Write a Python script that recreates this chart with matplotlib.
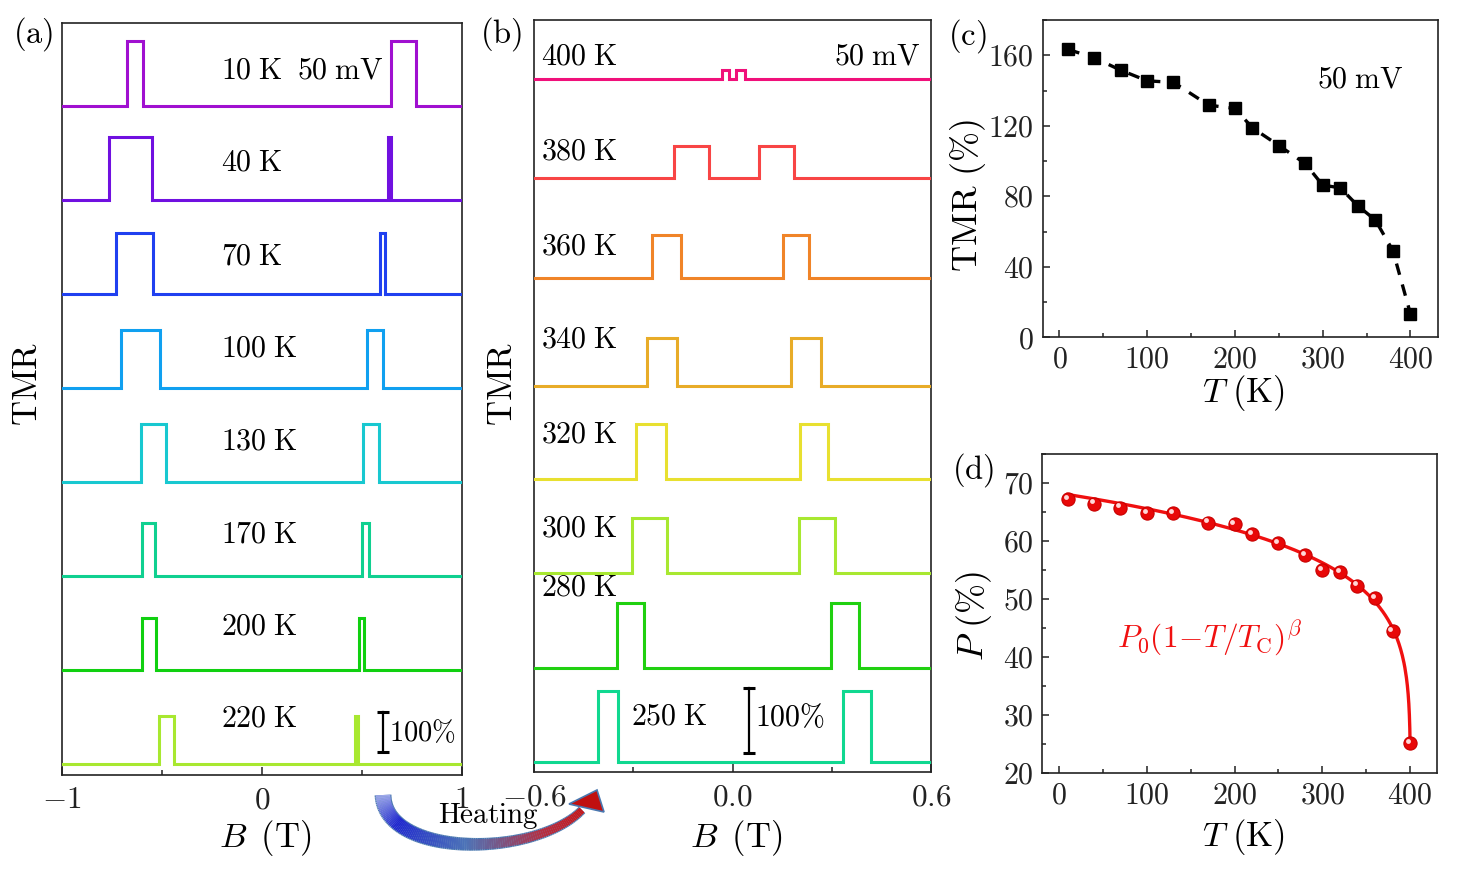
import numpy as np
import matplotlib
matplotlib.use('Agg')
import matplotlib.pyplot as plt
from matplotlib.collections import LineCollection
from matplotlib.patches import Polygon
from matplotlib.ticker import MultipleLocator, FuncFormatter
import matplotlib.transforms as mtransforms

plt.rcParams['mathtext.fontset'] = 'cm'
plt.rcParams['font.family'] = 'serif'
plt.rcParams['font.serif'] = ['cmr10', 'DejaVu Serif']
plt.rcParams['axes.unicode_minus'] = False

# ---------------- data ----------------
# panel (a): low temperature TMR loops (B in T, TMR in %)
temps_a = [10, 40, 70, 100, 130, 170, 200, 220]
height_a = [163, 158, 152, 146, 145, 132, 130, 119]
left_on_a = [-0.677, -0.765, -0.732, -0.707, -0.605, -0.600, -0.598, -0.513]
left_off_a = [-0.597, -0.552, -0.547, -0.510, -0.482, -0.533, -0.532, -0.440]
right_on_a = [0.643, 0.632, 0.590, 0.527, 0.507, 0.498, 0.485, 0.465]
right_off_a = [0.768, 0.645, 0.615, 0.607, 0.585, 0.533, 0.510, 0.482]
colors_a = ['#A010D0', '#7010E0', '#2040F0', '#10A0F0', '#18C8D0', '#10D090', '#10D010', '#A8E830']

# panel (b): high temperature TMR loops
temps_b = [400, 380, 360, 340, 320, 300, 280, 250]
height_b = [13, 49, 67, 75, 85, 86, 99, 109]
left_on_b = [-0.033, -0.177, -0.244, -0.260, -0.293, -0.304, -0.351, -0.407]
left_off_b = [-0.012, -0.071, -0.156, -0.168, -0.202, -0.200, -0.269, -0.348]
right_on_b = [0.010, 0.080, 0.151, 0.175, 0.204, 0.200, 0.296, 0.335]
right_off_b = [0.036, 0.185, 0.232, 0.267, 0.289, 0.311, 0.383, 0.420]
colors_b = ['#F0107A', '#F84545', '#F08428', '#E8AC28', '#E8E030', '#A8E830', '#20D010', '#10D890']

# panel (c) and (d): temperature dependence
T = [10, 40, 70, 100, 130, 170, 200, 220, 250, 280, 300, 320, 340, 360, 380, 400]
TMR = [163.3, 158.5, 151.5, 145.5, 144.6, 131.7, 129.8, 118.8, 108.8, 98.6, 86.3, 84.8, 74.6, 66.5, 49.1, 13.2]
P = [67.2, 66.5, 65.8, 64.9, 64.8, 63.2, 62.9, 61.2, 59.6, 57.6, 55.0, 54.6, 52.3, 50.1, 44.5, 25.1]
# fit P0 (1 - T/Tc)^beta
P0_fit, Tc_fit, beta_fit = 68.3, 400.3, 0.14

# ---------------- layout ----------------
W, H = 1462, 873
fig = plt.figure(figsize=(W / 100, H / 100), dpi=100)


def px_rect(l, r, t, b):
    return [l / W, 1 - b / H, (r - l) / W, (b - t) / H]


def fx(x):
    return x / W


def fy(y):
    return 1 - y / H


tick_kw = dict(direction='in', width=1.1, colors='#222222')
LBL = 21.6


def style_frame(ax):
    for s in ax.spines.values():
        s.set_linewidth(1.2)
        s.set_color('#222222')


def step_trace(l0, l1, r0, r1, h, xmin, xmax):
    x = [xmin, l0, l0, l1, l1, r0, r0, r1, r1, xmax]
    y = [0, 0, h, h, 0, 0, h, h, 0, 0]
    return np.array(x), np.array(y, dtype=float)


# ---- panel (a)
axa = fig.add_axes(px_rect(62, 462, 22.7, 775))
style_frame(axa)
step_a = 235.0
n = len(temps_a)
label_off_a = [88, 92, 94, 98, 100, 102, 108, 112]
for i in range(n):
    off = (n - 1 - i) * step_a
    x, y = step_trace(left_on_a[i], left_off_a[i], right_on_a[i], right_off_a[i], height_a[i], -1, 1)
    axa.plot(x, y + off, color=colors_a[i], lw=2.2, solid_joinstyle='miter', zorder=3)
    axa.text(-0.205, off + label_off_a[i], r'$\mathrm{%d\;K}$' % temps_a[i], fontsize=LBL,
             ha='left', va='center', zorder=4)
axa.text(0.175, 7 * step_a + label_off_a[0], r'$\mathrm{50\;mV}$', fontsize=LBL, ha='left', va='center')
# scale bar 100 %
axa.plot([0.603, 0.603], [30, 130], color='k', lw=1.6)
axa.plot([0.603], [30], marker='_', ms=9, mew=2.2, color='k')
axa.plot([0.603], [130], marker='_', ms=9, mew=2.2, color='k')
axa.text(0.635, 78, r'$100\%$', fontsize=20.5, ha='left', va='center')
axa.set_xlim(-1, 1)
axa.set_ylim(-27.5, 1853)
axa.set_yticks([])
axa.xaxis.set_major_locator(MultipleLocator(1))
axa.xaxis.set_minor_locator(MultipleLocator(0.5))
axa.xaxis.set_major_formatter(FuncFormatter(lambda v, p: r'$%g$' % v))
axa.tick_params(axis='x', which='major', length=6, labelsize=22.5, pad=8, **tick_kw)
axa.tick_params(axis='x', which='minor', length=3.5, **tick_kw)

# ---- panel (b)
axb = fig.add_axes(px_rect(534.3, 931, 20, 772))
style_frame(axb)
offsets_b = [1051, 898, 744, 578, 435, 290, 145, 0]
label_off_b = [34, 40, 49, 71, 69, 69, 123, 69]
label_x_b = [-0.58, -0.58, -0.58, -0.58, -0.58, -0.58, -0.58, -0.308]
for i in range(len(temps_b)):
    off = offsets_b[i]
    x, y = step_trace(left_on_b[i], left_off_b[i], right_on_b[i], right_off_b[i], height_b[i], -0.6, 0.6)
    axb.plot(x, y + off, color=colors_b[i], lw=2.2, solid_joinstyle='miter', zorder=3)
    axb.text(label_x_b[i], off + label_off_b[i], r'$\mathrm{%d\;K}$' % temps_b[i], fontsize=LBL,
             ha='left', va='center', zorder=4)
axb.text(0.567, offsets_b[0] + label_off_b[0], r'$\mathrm{50\;mV}$', fontsize=LBL, ha='right', va='center')
axb.plot([0.049, 0.049], [14, 114], color='k', lw=1.6)
axb.plot([0.049], [14], marker='_', ms=9, mew=2.2, color='k')
axb.plot([0.049], [114], marker='_', ms=9, mew=2.2, color='k')
axb.text(0.068, 68, r'$100\%$', fontsize=LBL, ha='left', va='center')
axb.set_xlim(-0.6, 0.6)
axb.set_ylim(-15.4, 1141.5)
axb.set_yticks([])
axb.xaxis.set_major_locator(MultipleLocator(0.6))
axb.xaxis.set_minor_locator(MultipleLocator(0.3))
axb.xaxis.set_major_formatter(FuncFormatter(lambda v, p: r'$%.1f$' % v))
axb.tick_params(axis='x', which='major', length=6, labelsize=22.5, pad=8, **tick_kw)
axb.tick_params(axis='x', which='minor', length=3.5, **tick_kw)

# ---- panel (c)
axc = fig.add_axes(px_rect(1042.7, 1437.7, 20, 337.3))
style_frame(axc)
axc.plot(T, TMR, color='k', lw=2.4, ls=(0, (3.5, 3)), zorder=2)
axc.plot(T, TMR, ls='none', marker='s', ms=8.5, color='k', zorder=3)
axc.text(294, 146, r'$\mathrm{50\;mV}$', fontsize=LBL, ha='left', va='center')
axc.set_xlim(-19, 431)
axc.set_ylim(0, 180)
axc.xaxis.set_major_locator(MultipleLocator(100))
axc.xaxis.set_minor_locator(MultipleLocator(50))
axc.yaxis.set_major_locator(MultipleLocator(40))
axc.yaxis.set_minor_locator(MultipleLocator(20))
fmt = FuncFormatter(lambda v, p: r'$%g$' % v)
axc.xaxis.set_major_formatter(fmt)
axc.yaxis.set_major_formatter(fmt)
axc.tick_params(which='major', length=5, labelsize=21.5, pad=6.5, **tick_kw)
axc.tick_params(which='minor', length=3, **tick_kw)

# ---- panel (d)
axd = fig.add_axes(px_rect(1042.3, 1437.3, 454.3, 772.7))
style_frame(axd)
Tfit = np.concatenate([np.linspace(10, 395, 400), np.linspace(395, 400, 400)])
Pfit = P0_fit * (1 - Tfit / Tc_fit) ** beta_fit
axd.plot(Tfit, Pfit, color='#F01010', lw=2.4, zorder=2)
axd.plot(T, P, ls='none', marker='o', ms=9.5, color='#E80808', mec='#C80000', mew=0.8, zorder=3)
hl = mtransforms.offset_copy(axd.transData, fig=fig, x=-1.6, y=1.6, units='points')
axd.plot(T, P, ls='none', marker='o', ms=3.5, color='#FFD8D8', mec='none', transform=hl, zorder=4)
axd.text(66, 43.3, r'$P_0(1\!-\!T/T_\mathrm{C})^\beta$', color='#F01010', fontsize=22.5, ha='left', va='center')
axd.set_xlim(-19, 431)
axd.set_ylim(20, 75)
axd.xaxis.set_major_locator(MultipleLocator(100))
axd.xaxis.set_minor_locator(MultipleLocator(50))
axd.yaxis.set_major_locator(MultipleLocator(10))
axd.yaxis.set_minor_locator(MultipleLocator(5))
axd.xaxis.set_major_formatter(fmt)
axd.yaxis.set_major_formatter(fmt)
axd.tick_params(which='major', length=5, labelsize=21.5, pad=6.5, **tick_kw)
axd.tick_params(which='minor', length=3, **tick_kw)

# ---- axis labels and panel letters
fig.text(fx(265), fy(838), r'$B\ \,\mathrm{(T)}$', fontsize=25, ha='center', va='center')
fig.text(fx(736), fy(838), r'$B\ \,\mathrm{(T)}$', fontsize=25, ha='center', va='center')
fig.text(fx(1244), fy(393), r'$T\ \mathrm{(K)}$', fontsize=25, ha='center', va='center')
fig.text(fx(1244), fy(837), r'$T\ \mathrm{(K)}$', fontsize=25, ha='center', va='center')
fig.text(fx(28), fy(384), r'$\mathrm{TMR}$', fontsize=25, ha='center', va='center', rotation=90)
fig.text(fx(503), fy(384), r'$\mathrm{TMR}$', fontsize=25, ha='center', va='center', rotation=90)
fig.text(fx(968), fy(196), r'$\mathrm{TMR\ (\%)}$', fontsize=26, ha='center', va='center', rotation=90)
fig.text(fx(974), fy(616), r'$P\ \mathrm{(\%)}$', fontsize=26, ha='center', va='center', rotation=90)
fig.text(fx(33), fy(34), r'$\mathrm{(a)}$', fontsize=23.5, ha='center', va='center')
fig.text(fx(501), fy(34), r'$\mathrm{(b)}$', fontsize=23.5, ha='center', va='center')
fig.text(fx(967), fy(36), r'$\mathrm{(c)}$', fontsize=23.5, ha='center', va='center')
fig.text(fx(973), fy(470), r'$\mathrm{(d)}$', fontsize=23.5, ha='center', va='center')

# ---- "Heating" curved gradient arrow (figure decoration)
p0 = np.array([383, 795.]); p1 = np.array([385, 858.]); p2 = np.array([535, 858.]); p3 = np.array([582, 810.])
t = np.linspace(0, 1, 120)[:, None]
pts = (1 - t) ** 3 * p0 + 3 * (1 - t) ** 2 * t * p1 + 3 * (1 - t) * t ** 2 * p2 + t ** 3 * p3
pts_f = np.column_stack([fx(pts[:, 0]), fy(pts[:, 1])])
segs = np.stack([pts_f[:-1], pts_f[1:]], axis=1)
tt = np.linspace(0, 1, len(segs))
stops = np.array([0, 0.18, 0.5, 0.8, 1.0])
cols = np.array([[0.62, 0.66, 0.92], [0.12, 0.14, 0.82], [0.30, 0.45, 0.72], [0.72, 0.18, 0.25], [0.80, 0.08, 0.08]])
rgb = np.column_stack([np.interp(tt, stops, cols[:, k]) for k in range(3)])
widths = np.interp(tt, [0, 1], [10.5, 5.0])
outline = LineCollection(segs, colors='#4A78B0', linewidths=widths + 1.6, transform=fig.transFigure,
                         capstyle='butt')
fig.add_artist(outline)
band = LineCollection(segs, colors=rgb, linewidths=widths, transform=fig.transFigure, capstyle='butt')
fig.add_artist(band)
head = Polygon([[fx(597), fy(790)], [fx(604), fy(812)], [fx(569), fy(804)]], closed=True,
               facecolor='#C01010', edgecolor='#4A78B0', lw=1.2, transform=fig.transFigure)
fig.add_artist(head)
fig.text(fx(488), fy(816), r'$\mathrm{Heating}$', fontsize=21, ha='center', va='center')

fig.savefig('out.png', dpi=100)
